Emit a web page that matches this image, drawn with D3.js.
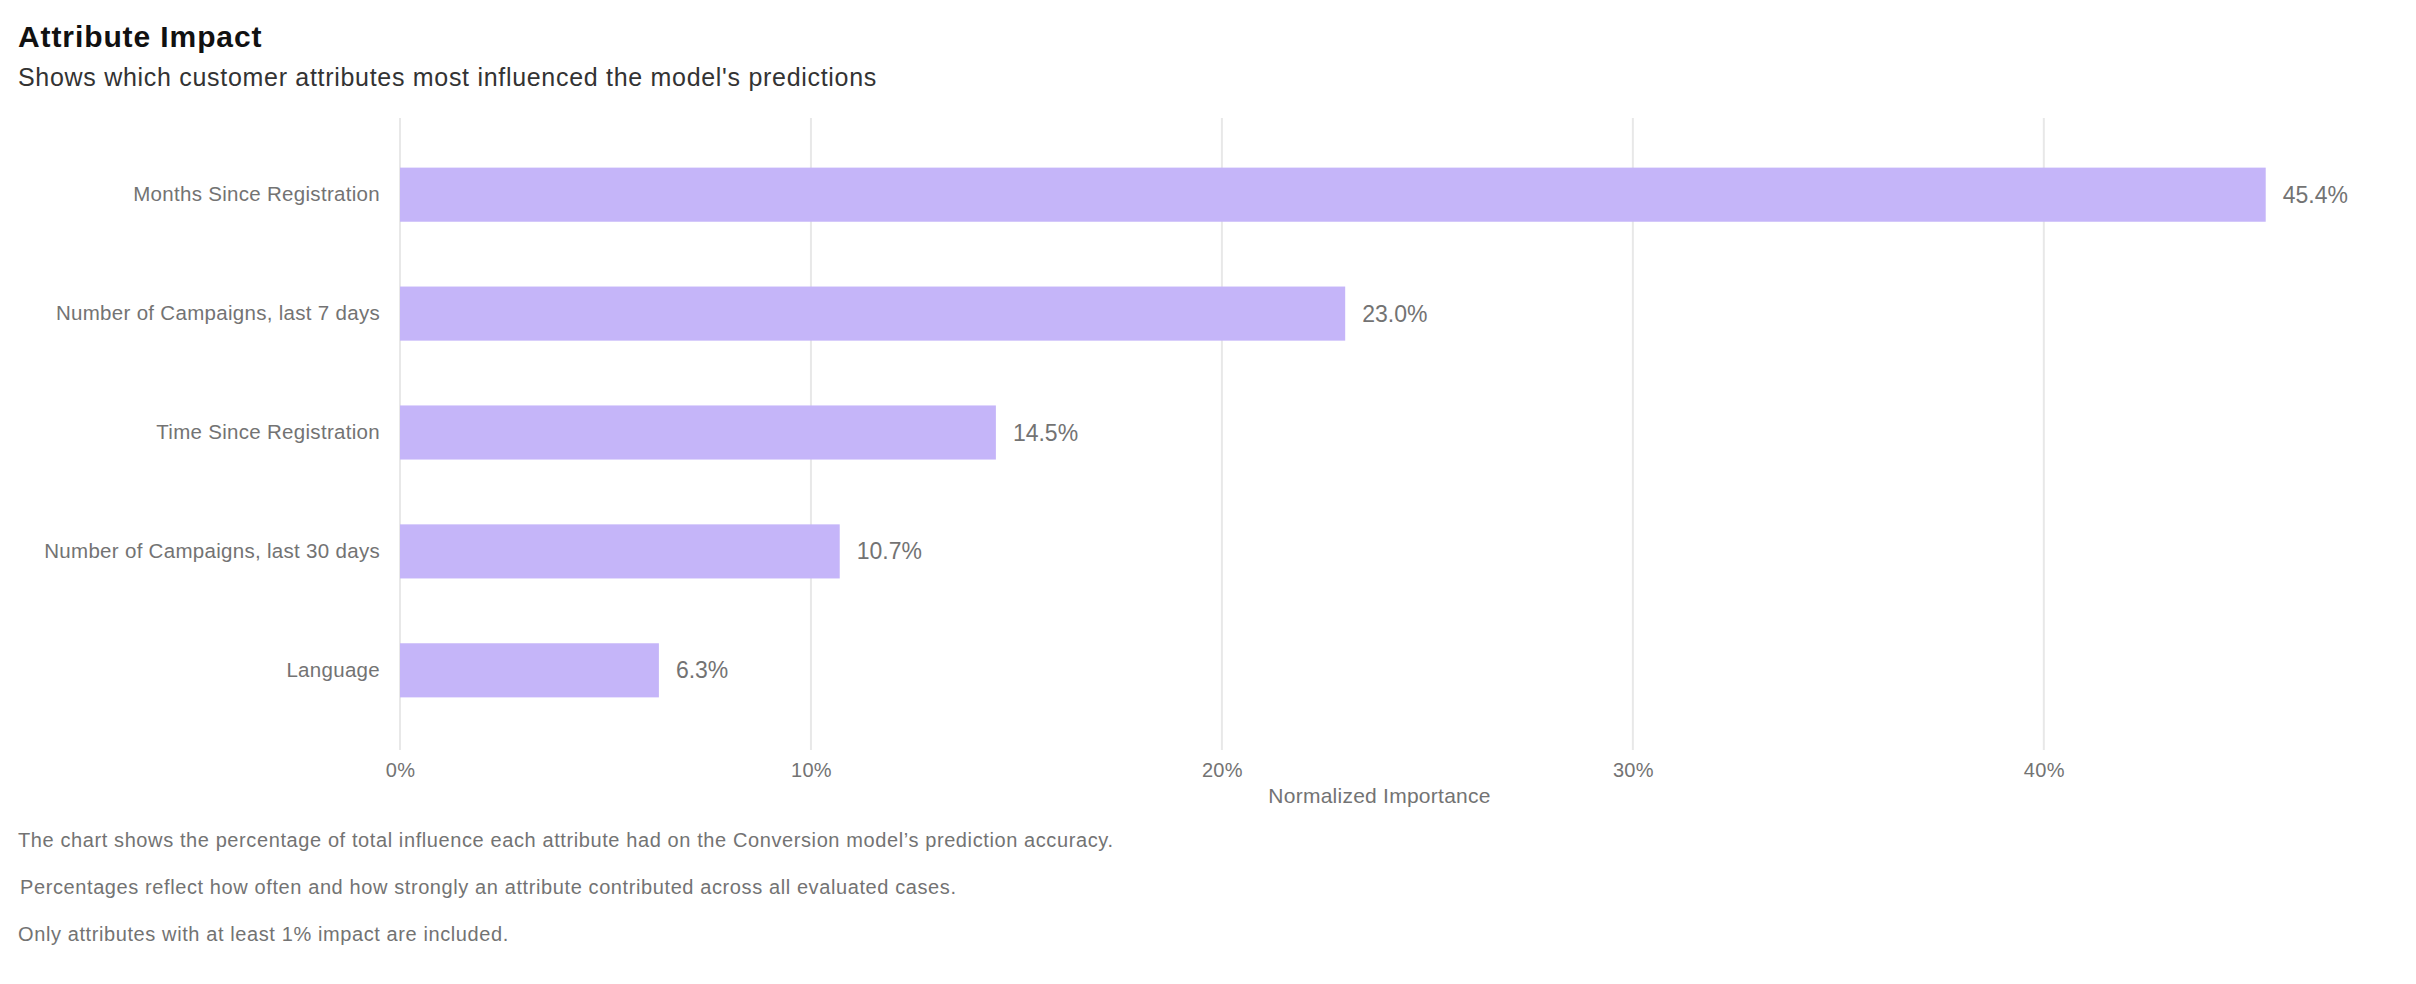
<!DOCTYPE html>
<html>
<head>
<meta charset="utf-8">
<script src="https://cdn.jsdelivr.net/npm/d3@7"></script>
<style>
  body { margin: 0; background: #fff; }
  text { font-family: "Liberation Sans", Arial, Helvetica, sans-serif; }
</style>
</head>
<body>
<div id="chart"></div>
<script>
// chart data
let attributes = [
  "Months Since Registration",
  "Number of Campaigns, last 7 days",
  "Time Since Registration",
  "Number of Campaigns, last 30 days",
  "Language"
];
let importance = [45.4, 23.0, 14.5, 10.7, 6.3];
let xTicks = [0, 10, 20, 30, 40];
let notes = [
  "The chart shows the percentage of total influence each attribute had on the Conversion model\u2019s prediction accuracy.",
  "Percentages reflect how often and how strongly an attribute contributed across all evaluated cases.",
  "Only attributes with at least 1% impact are included."
];

let svgWidth = 2416;
let svgHeight = 984;

let margin = { top: 118, right: 57, bottom: 234, left: 400 };
let width = svgWidth - margin.left - margin.right;
let height = svgHeight - margin.top - margin.bottom;

let svg = d3.select("#chart")
  .append("svg")
  .attr("width", svgWidth)
  .attr("height", svgHeight);

// title + subtitle
svg.append("text")
  .attr("x", 18).attr("y", 47)
  .attr("font-size", 30).attr("font-weight", "bold")
  .attr("letter-spacing", 0.9)
  .attr("fill", "#111")
  .text("Attribute Impact");

svg.append("text")
  .attr("x", 18).attr("y", 86)
  .attr("font-size", 25)
  .attr("letter-spacing", 0.7)
  .attr("fill", "#333")
  .text("Shows which customer attributes most influenced the model's predictions");

let chartGroup = svg.append("g")
  .attr("transform", `translate(${margin.left}, ${margin.top})`);

let data = attributes.map((a, i) => ({ name: a, value: importance[i] }));

let x = d3.scaleLinear()
  .domain([0, d3.max(importance) * 1.05])
  .range([0, width]);

let y = d3.scaleBand()
  .domain(attributes)
  .range([-1.5, height - 1.5])
  .paddingInner(0.545)
  .paddingOuter(0.43);

// vertical gridlines
chartGroup.append("g")
  .selectAll("line")
  .data(xTicks)
  .enter()
  .append("line")
    .attr("x1", d => x(d)).attr("x2", d => x(d))
    .attr("y1", 0).attr("y2", height)
    .attr("stroke", "#e8e8e8")
    .attr("stroke-width", 2);

// x axis (labels only)
let xAxis = chartGroup.append("g")
  .attr("transform", `translate(0, ${height})`)
  .call(d3.axisBottom(x).tickValues(xTicks).tickFormat(d => d + "%").tickSize(0).tickPadding(13));
xAxis.select(".domain").remove();
xAxis.selectAll("text")
  .attr("font-size", 20)
  .attr("letter-spacing", 0.3)
  .attr("fill", "#737373")
  .style("font-family", "\"Liberation Sans\", Arial, sans-serif");

// y axis (labels only)
let yAxis = chartGroup.append("g")
  .call(d3.axisLeft(y).tickSize(0).tickPadding(20));
yAxis.select(".domain").remove();
yAxis.selectAll("text")
  .attr("font-size", 20.5)
  .attr("letter-spacing", 0.3)
  .attr("fill", "#737373")
  .style("font-family", "\"Liberation Sans\", Arial, sans-serif");

// bars
chartGroup.append("g")
  .selectAll("rect")
  .data(data)
  .enter()
  .append("rect")
    .attr("x", x(0))
    .attr("y", d => y(d.name))
    .attr("width", d => x(d.value) - x(0))
    .attr("height", y.bandwidth())
    .attr("fill", "#c5b5f9");

// value labels
chartGroup.append("g")
  .selectAll("text")
  .data(data)
  .enter()
  .append("text")
    .attr("x", d => x(d.value) + 17)
    .attr("y", d => y(d.name) + y.bandwidth() / 2)
    .attr("dy", "0.35em")
    .attr("font-size", 23)
    .attr("fill", "#737373")
    .text(d => d.value.toFixed(1) + "%");

// axis title
chartGroup.append("text")
  .attr("x", width / 2)
  .attr("y", height + 53)
  .attr("text-anchor", "middle")
  .attr("font-size", 21)
  .attr("letter-spacing", 0.25)
  .attr("fill", "#737373")
  .text("Normalized Importance");

// footnotes
svg.append("g")
  .selectAll("text")
  .data(notes)
  .enter()
  .append("text")
    .attr("x", (d, i) => i === 1 ? 20 : 18)
    .attr("y", (d, i) => 847 + i * 47)
    .attr("font-size", 20)
    .attr("letter-spacing", 0.6)
    .attr("fill", "#737373")
    .text(d => d);
</script>
</body>
</html>
